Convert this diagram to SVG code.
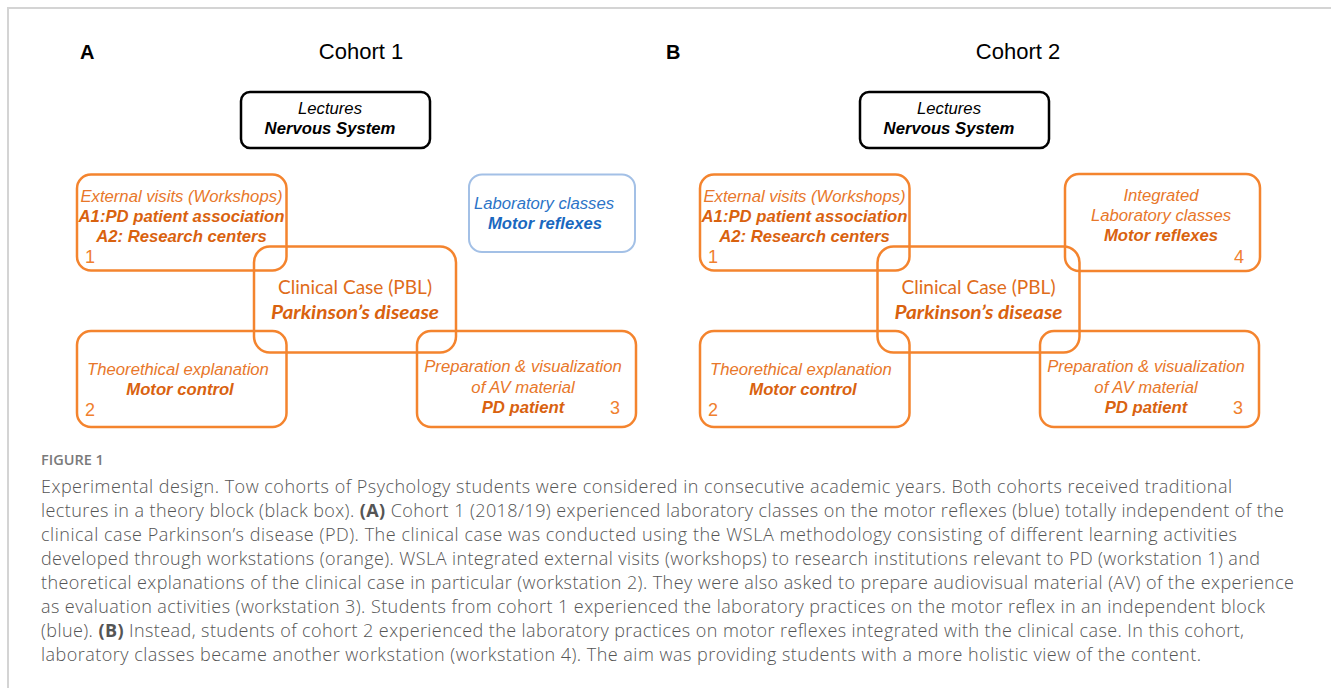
<svg xmlns="http://www.w3.org/2000/svg" width="1331" height="688" viewBox="0 0 1331 688">
<style>
.frame{fill:none;stroke:#d4d4d4;stroke-width:2}
.panel{font-family:"Liberation Sans",Arial,sans-serif;font-weight:bold;font-size:20px;fill:#000}
.title{font-family:"Liberation Sans",Arial,sans-serif;font-size:22px;fill:#000;text-anchor:middle}
.bk{fill:none;stroke:#000;stroke-width:2.5}
.or{fill:none;stroke:#F4842E;stroke-width:2.5}
.bl{fill:none;stroke:#A3C0E6;stroke-width:2}
.t{font-family:"Liberation Sans",Arial,sans-serif;font-size:16.7px;text-anchor:middle;font-style:italic}
.tk{fill:#000}
.to{fill:#E8772A}
.tob{fill:#D9620F;font-weight:bold}
.tbl{fill:#2C74C7}
.tblb{fill:#1A68C0;font-weight:bold}
.num{font-family:"Liberation Sans",Arial,sans-serif;font-size:18px;fill:#F0802E}
.cc{font-family:Lato,"Open Sans",sans-serif;font-size:19px;text-anchor:middle;fill:#E06C1A}
.ccb{font-weight:bold;font-style:italic;fill:#D9620F}
.capH{font-family:"Open Sans",sans-serif;font-size:14.5px;font-weight:600;fill:#7a7a7a}
.cap{font-family:"Open Sans",sans-serif;font-size:18px;font-weight:300;fill:#555}
.cap tspan.b{font-weight:bold;fill:#555}
</style>
<path class="frame" d="M8,690 V8 H1331"/>

<g id="panelA">
<text class="panel" x="80" y="59">A</text>
<text class="title" x="361" y="59">Cohort 1</text>
</g>
<g id="panelB">
<text class="panel" x="666" y="59">B</text>
<text class="title" x="1018" y="59">Cohort 2</text>
</g>

<g id="connectors"></g>

<!-- Panel A nodes -->
<g id="A-lectures">
<rect class="bk" x="241" y="92" width="189" height="56" rx="9"/>
<text class="t tk" x="330" y="114">Lectures</text>
<text class="t tk" x="330" y="134" font-weight="bold">Nervous System</text>
</g>
<g id="A-ws1">
<rect class="or" x="77" y="174.5" width="209.5" height="96" rx="14"/>
<text class="t to" x="181.5" y="201.5">External visits (Workshops)</text>
<text class="t tob" x="181.5" y="221.5">A1:PD patient association</text>
<text class="t tob" x="181.5" y="241.5">A2: Research centers</text>
<text class="num" x="85" y="263">1</text>
</g>
<g id="A-lab">
<rect class="bl" x="469" y="174.5" width="166" height="77.5" rx="13"/>
<text class="t tbl" x="544" y="209">Laboratory classes</text>
<text class="t tblb" x="545" y="229">Motor reflexes</text>
</g>
<g id="A-clinical">
<rect class="or" x="254" y="246.5" width="202" height="106" rx="16"/>
<text class="cc" x="355" y="294" textLength="154" lengthAdjust="spacingAndGlyphs">Clinical Case (PBL)</text>
<text class="cc ccb" x="355" y="318.5" textLength="168" lengthAdjust="spacingAndGlyphs">Parkinson’s disease</text>
</g>
<g id="A-ws2">
<rect class="or" x="77" y="331" width="209.5" height="96" rx="14"/>
<text class="t to" x="178" y="375">Theorethical explanation</text>
<text class="t tob" x="180" y="395">Motor control</text>
<text class="num" x="85" y="416">2</text>
</g>
<g id="A-ws3">
<rect class="or" x="417" y="331" width="219" height="96" rx="14"/>
<text class="t to" x="523" y="372">Preparation &amp; visualization</text>
<text class="t to" x="523" y="393">of AV material</text>
<text class="t tob" x="523" y="413">PD patient</text>
<text class="num" x="610" y="414">3</text>
</g>

<!-- Panel B nodes -->
<g id="B-lectures">
<rect class="bk" x="860" y="92" width="189" height="56" rx="9"/>
<text class="t tk" x="949" y="114">Lectures</text>
<text class="t tk" x="949" y="134" font-weight="bold">Nervous System</text>
</g>
<g id="B-ws1">
<rect class="or" x="700" y="174.5" width="209.5" height="96" rx="14"/>
<text class="t to" x="804.5" y="201.5">External visits (Workshops)</text>
<text class="t tob" x="804.5" y="221.5">A1:PD patient association</text>
<text class="t tob" x="804.5" y="241.5">A2: Research centers</text>
<text class="num" x="708" y="263">1</text>
</g>
<g id="B-ws4">
<rect class="or" x="1065" y="174" width="195" height="97" rx="14"/>
<text class="t to" x="1161" y="201">Integrated</text>
<text class="t to" x="1161" y="220.5">Laboratory classes</text>
<text class="t tob" x="1161" y="240.5">Motor reflexes</text>
<text class="num" x="1234" y="263">4</text>
</g>
<g id="B-clinical">
<rect class="or" x="877.5" y="246.5" width="202" height="106" rx="16"/>
<text class="cc" x="978.5" y="294" textLength="154" lengthAdjust="spacingAndGlyphs">Clinical Case (PBL)</text>
<text class="cc ccb" x="978.5" y="318.5" textLength="168" lengthAdjust="spacingAndGlyphs">Parkinson’s disease</text>
</g>
<g id="B-ws2">
<rect class="or" x="700" y="331" width="209.5" height="96" rx="14"/>
<text class="t to" x="801" y="375">Theorethical explanation</text>
<text class="t tob" x="803" y="395">Motor control</text>
<text class="num" x="708" y="416">2</text>
</g>
<g id="B-ws3">
<rect class="or" x="1040" y="331" width="219" height="96" rx="14"/>
<text class="t to" x="1146" y="372">Preparation &amp; visualization</text>
<text class="t to" x="1146" y="393">of AV material</text>
<text class="t tob" x="1146" y="413">PD patient</text>
<text class="num" x="1233" y="414">3</text>
</g>

<g id="caption">
<text class="capH" x="41" y="465">FIGURE 1</text>
<text class="cap" x="41" y="492.5" textLength="1191" lengthAdjust="spacing">Experimental design. Tow cohorts of Psychology students were considered in consecutive academic years. Both cohorts received traditional</text>
<text class="cap" x="41" y="516.5" textLength="1243" lengthAdjust="spacing">lectures in a theory block (black box). <tspan class="b">(A)</tspan> Cohort 1 (2018/19) experienced laboratory classes on the motor reflexes (blue) totally independent of the</text>
<text class="cap" x="41" y="540.5" textLength="1196" lengthAdjust="spacing">clinical case Parkinson’s disease (PD). The clinical case was conducted using the WSLA methodology consisting of different learning activities</text>
<text class="cap" x="41" y="564.5" textLength="1219" lengthAdjust="spacing">developed through workstations (orange). WSLA integrated external visits (workshops) to research institutions relevant to PD (workstation 1) and</text>
<text class="cap" x="41" y="588.5" textLength="1253" lengthAdjust="spacing">theoretical explanations of the clinical case in particular (workstation 2). They were also asked to prepare audiovisual material (AV) of the experience</text>
<text class="cap" x="41" y="612.5" textLength="1224" lengthAdjust="spacing">as evaluation activities (workstation 3). Students from cohort 1 experienced the laboratory practices on the motor reflex in an independent block</text>
<text class="cap" x="41" y="636.5" textLength="1203" lengthAdjust="spacing">(blue). <tspan class="b">(B)</tspan> Instead, students of cohort 2 experienced the laboratory practices on motor reflexes integrated with the clinical case. In this cohort,</text>
<text class="cap" x="41" y="660.5" textLength="1160" lengthAdjust="spacing">laboratory classes became another workstation (workstation 4). The aim was providing students with a more holistic view of the content.</text>
</g>
</svg>
